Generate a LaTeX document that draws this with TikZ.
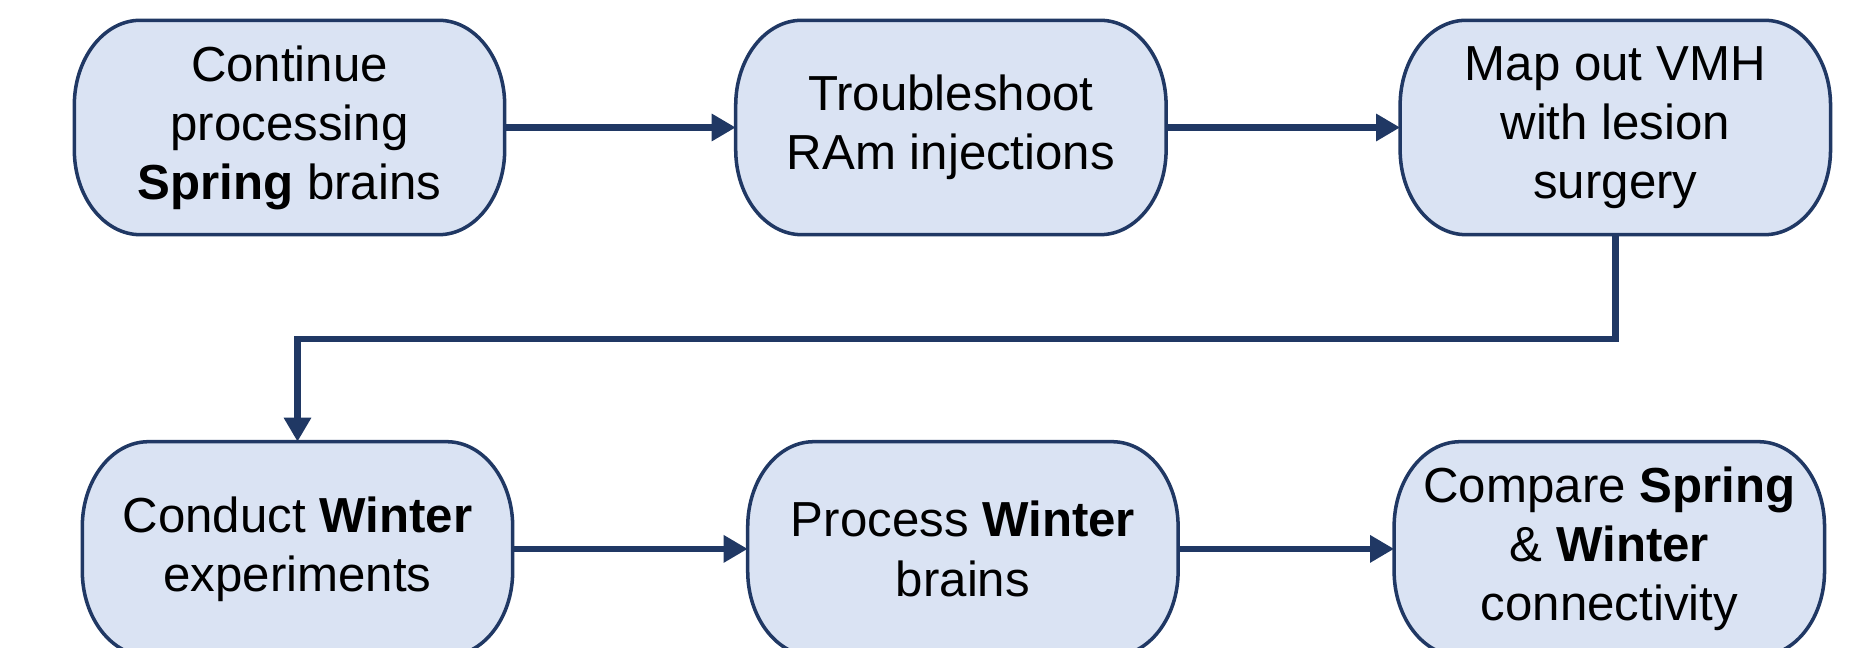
\documentclass[tikz,border=0pt]{standalone}
\usepackage{fontspec}
\setmainfont{Liberation Sans}
\usepackage{xcolor}
\usetikzlibrary{arrows.meta, positioning, calc, backgrounds}
\definecolor{navy}{HTML}{203864}
\definecolor{paleblue}{HTML}{DAE3F3}

\begin{document}
\begin{tikzpicture}[
    node distance=2.07cm and 2.31cm,
    stage/.style={minimum width=4.29cm, minimum height=2.13cm, inner sep=0pt, align=center, font=\fontsize{14}{16.8}\selectfont},
    stageshape/.style={draw=navy, line width=1pt, fill=paleblue},
    flow/.style={->, draw=navy, line width=1.8pt},
    >={Triangle[length=0.24cm, width=0.26cm]}]
  \useasboundingbox (0,0) rectangle (18.6,-6.48);
  \node[stage] (cont) at (2.895,-1.275) {Continue\\processing\\\textbf{Spring} brains};
  \node[stage, right=of cont] (trbl) {Troubleshoot\\RAm injections};
  \node[stage, right=2.34cm of trbl] (vmh) {Map out VMH\\with lesion\\surgery};
  \node[stage, below=of cont, xshift=0.08cm] (cond) {Conduct \textbf{Winter}\\experiments};
  \node[stage, right=2.35cm of cond] (proc) {Process \textbf{Winter}\\brains};
  \node[stage, right=2.16cm of proc] (comp) {Compare \textbf{Spring}\\\& \textbf{Winter}\\connectivity};
  \begin{scope}[on background layer]
    \foreach \n in {cont,trbl,vmh,cond,proc,comp} {
      \path[stageshape] ($(\n.north west)+(0.66,0)$) -- ($(\n.north east)+(-0.66,0)$)
        arc[start angle=90, end angle=0, x radius=0.66, y radius=0.85]
        -- ($(\n.south east)+(0,0.85)$)
        arc[start angle=0, end angle=-90, x radius=0.66, y radius=0.85]
        -- ($(\n.south west)+(0.66,0)$)
        arc[start angle=270, end angle=180, x radius=0.66, y radius=0.85]
        -- ($(\n.north west)+(0,-0.85)$)
        arc[start angle=180, end angle=90, x radius=0.66, y radius=0.85]
        -- cycle;
    }
  \end{scope}
  \draw[flow] (cont) -- (trbl);
  \draw[flow] (trbl) -- (vmh);
  \draw[flow] (vmh.south) -- ++(0,-1.04) -| (cond.north);
  \draw[flow] (cond) -- (proc);
  \draw[flow] (proc) -- (comp);
\end{tikzpicture}
\end{document}
